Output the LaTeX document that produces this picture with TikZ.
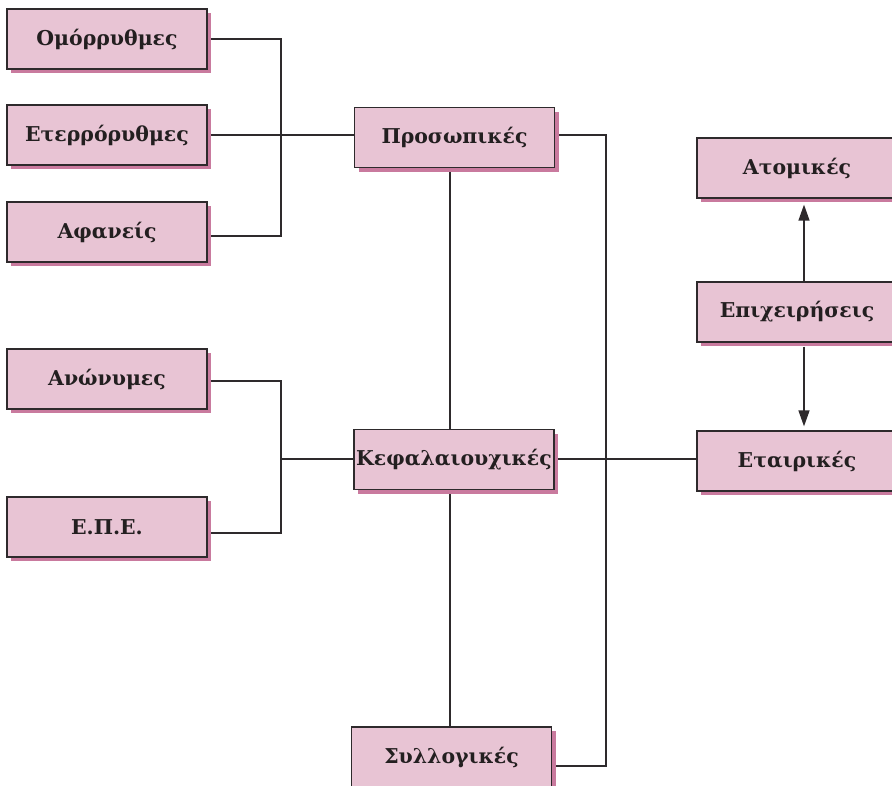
\documentclass[tikz,border=0pt]{standalone}
\usepackage{fontspec}
\setmainfont{DejaVu Serif}[BoldFont={DejaVu Serif Bold}]
\usetikzlibrary{shadows,arrows.meta,backgrounds}
\definecolor{boxpink}{HTML}{E8C4D4}
\definecolor{shadepink}{HTML}{C97A9E}
\definecolor{edgegray}{HTML}{2E2A2C}
\definecolor{inkblack}{HTML}{231F20}
\begin{document}
\begin{tikzpicture}[x=1bp,y=-1bp,
  pbox/.style={draw=edgegray, line width=1.3bp, fill=boxpink, minimum width=200bp, minimum height=60bp,
    inner sep=0pt, font=\bfseries\fontsize{20.5}{24}\selectfont, text=inkblack,
    general shadow={fill=shadepink, shadow xshift=4bp, shadow yshift=-4bp}},
  conn/.style={draw=edgegray, line width=1.5bp},
  arr/.style={conn, -{Triangle[length=16bp,width=11bp]}}]
\useasboundingbox (0,0) rectangle (892,786);
\node[pbox] (om) at (107,39) {Ομόρρυθμες};
\node[pbox] (et) at (107,135) {Ετερρόρυθμες};
\node[pbox] (af) at (107,232) {Αφανείς};
\node[pbox] (an) at (107,379) {Ανώνυμες};
\node[pbox] (epe) at (107,527) {Ε.Π.Ε.};
\node[pbox] (pr) at (454.5,137.5) {Προσωπικές};
\node[pbox] (kef) at (454,459.5) {Κεφαλαιουχικές};
\node[pbox] (syl) at (451.5,757) {Συλλογικές};
\node[pbox] (at) at (797,168) {Ατομικές};
\node[pbox] (epi) at (797,312) {Επιχειρήσεις};
\node[pbox] (eta) at (797,461) {Εταιρικές};
\begin{scope}[on background layer]
\coordinate (jl1) at (281,135);
\coordinate (jl2) at (281,459);
\coordinate (jr) at (606,766);
\coordinate (vx) at (450,0);
\coordinate (ax) at (804,0);
\draw[conn] (om.east) -| (jl1) |- ([yshift=-4bp]af.east);
\draw[conn] (et.east) -- (et.east -| pr.west);
\draw[conn] ([yshift=-2bp]an.east) -| (jl2) |- ([yshift=-6bp]epe.east);
\draw[conn] (jl2) -- (jl2 -| kef.west);
\draw[conn] (pr.east |- jl1) -| (jr) -- (jr -| syl.east);
\draw[conn] (pr.south -| vx) -- (kef.north -| vx);
\draw[conn] (kef.south -| vx) -- (syl.north -| vx);
\draw[conn] (kef.east |- jl2) -- (jl2 -| eta.west);
\draw[arr] (epi.north -| ax) -- ([yshift=-6bp]at.south -| ax);
\draw[arr] ([yshift=-4bp]epi.south -| ax) -- ([yshift=4bp]eta.north -| ax);
\end{scope}
\end{tikzpicture}
\end{document}
